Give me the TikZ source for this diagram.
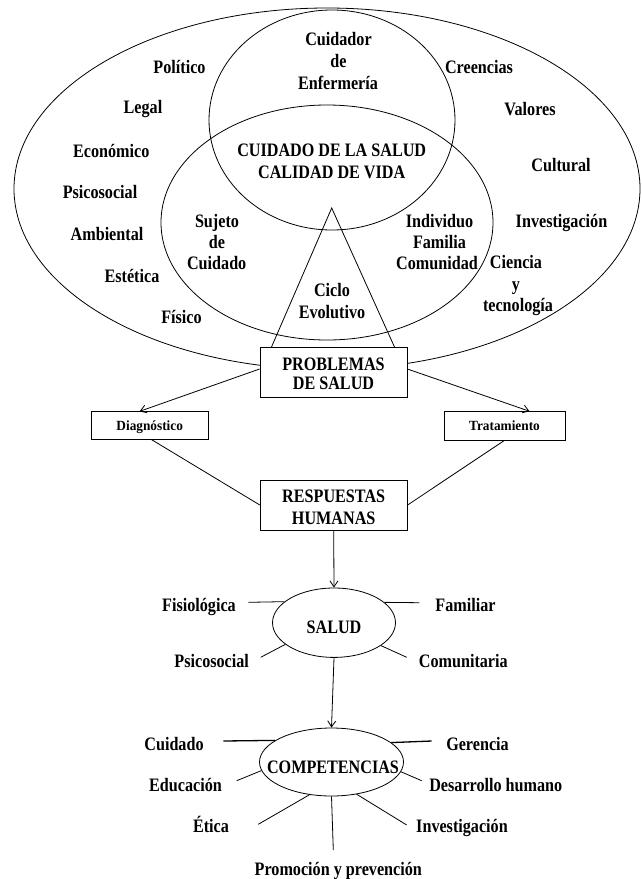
\documentclass[tikz,border=0pt]{standalone}
\usepackage{fontspec}
\setmainfont{Liberation Serif}[FakeStretch=0.85]
\newfontfamily\boxsmall{Liberation Serif}[FakeStretch=0.95]
\usetikzlibrary{shapes.geometric,arrows.meta}
\begin{document}
\begin{tikzpicture}[x=1pt,y=-1pt,line width=0.8pt,
  lbl/.style={anchor=base,inner sep=0pt,font=\bfseries\fontsize{19}{22}\selectfont},
  bigbox/.style={draw,fill=white,rectangle,minimum width=147pt,minimum height=50pt,inner sep=0pt,align=center,font=\bfseries\fontsize{19}{19}\selectfont},
  smallbox/.style={draw,fill=white,rectangle,inner sep=0pt,text height=9.2pt,text depth=0pt,font=\boxsmall\bfseries\fontsize{14}{16}\selectfont},
  arr/.style={-{Straight Barb[length=6pt,width=8pt]}},
  heavy/.style={line width=1.3pt}]
\useasboundingbox (0,0) rectangle (641,879);
% Venn-like region
\draw (327,188.7) ellipse [x radius=313pt,y radius=180.7pt];
\draw (332,120) ellipse [x radius=123pt,y radius=110pt];
\draw (327,222.5) ellipse [x radius=166pt,y radius=117.5pt];
\coordinate (apex) at (331.7,208);
\coordinate (bl) at (271.5,347);
\coordinate (br) at (394.5,347);
\draw (bl) -- (apex) -- (br);
% boxes
\node[bigbox] (prob) at (333.5,372) {\rule{0pt}{17pt}PROBLEMAS\\DE SALUD};
\node[bigbox] (resp) at (333.7,505) {\rule{0pt}{17pt}RESPUESTAS\\[2.7pt]HUMANAS};
\node[smallbox,minimum width=117pt,minimum height=27.6pt] (diag) at (149.7,425.5) {Diagnóstico};
\node[smallbox,minimum width=121pt,minimum height=28.3pt] (trat) at (504.5,425.8) {Tratamiento};
\draw[arr] ([yshift=3pt]prob.west) -- ([xshift=-10pt]diag.north);
\draw[arr] ([yshift=3pt]prob.east) -- ([xshift=25pt]trat.north);
\draw ([xshift=2pt]diag.south) -- (resp.west);
\draw (trat.south) -- (resp.east);
% SALUD
\node[draw,ellipse,minimum width=123pt,minimum height=69.4pt,inner sep=0pt,text height=21pt,text depth=0pt,font=\bfseries\fontsize{19}{22}\selectfont] (salud) at (334,622.7) {SALUD};
\draw[arr] (resp.south) -- (salud.north);
\coordinate (s1) at (248.3,602.3);
\coordinate (s2) at (419.3,602.7);
\coordinate (s3) at (260.7,657.3);
\coordinate (s4) at (406.7,657.3);
\draw (s1) -- (salud.157.8);
\draw (s2) -- (salud.22.1);
\draw (s3) -- (salud.204.7);
\draw (s4) -- (salud.334.7);
\node[lbl] (fisio) at (199,611) {Fisiológica};
\node[lbl] (fam) at (465.5,611) {Familiar};
\node[lbl] (psi2) at (211.7,667) {Psicosocial};
\node[lbl] (com) at (463.3,667) {Comunitaria};
% COMPETENCIAS
\node[draw,ellipse,minimum width=144pt,minimum height=68pt,inner sep=0pt] (comp) at (331.5,762) {};
\node[lbl] (comptext) at (333,773) {COMPETENCIAS};
\draw[arr] (salud.south) -- (comp.north);
\coordinate (c1) at (223.3,741);
\coordinate (c2) at (431.7,741);
\coordinate (c3) at (236.7,780.7);
\coordinate (c4) at (421.7,780.7);
\coordinate (c5) at (258.3,824.3);
\coordinate (c6) at (406.7,825);
\coordinate (c7) at (333.3,850);
\draw[heavy] (c1) -- (comp.159.9);
\draw[heavy] (c2) -- (comp.18.9);
\draw (c3) -- (comp.187.9);
\draw (c4) -- (comp.352.5);
\draw (c5) -- (comp.236.9);
\draw (c6) -- (comp.308.2);
\draw (c7) -- (comp.270);
\node[lbl] (cuid) at (174,750) {Cuidado};
\node[lbl] (ger) at (477.5,750) {Gerencia};
\node[lbl] (edu) at (185.5,791.5) {Educación};
\node[lbl] (des) at (495.8,791.5) {Desarrollo humano};
\node[lbl] (eti) at (211,832.5) {Ética};
\node[lbl] (inv2) at (462,832) {Investigación};
\node[lbl] (pro) at (338.3,875) {Promoción y prevención};
% upper labels
\node[lbl] (pol) at (179.5,73) {Político};
\node[lbl] (leg) at (143,113) {Legal};
\node[lbl] (eco) at (111.3,157) {Económico};
\node[lbl] (psi) at (100,198) {Psicosocial};
\node[lbl] (amb) at (107,240) {Ambiental};
\node[lbl] (est) at (132,282) {Estética};
\node[lbl] (fis) at (181.5,323) {Físico};
\node[lbl] (cui1) at (338.5,45) {Cuidador};
\node[lbl] (cui2) at (338.5,67) {de};
\node[lbl] (cui3) at (338,89) {Enfermería};
\node[lbl] (cre) at (479,73) {Creencias};
\node[lbl] (val) at (530,115) {Valores};
\node[lbl] (cul) at (561,171) {Cultural};
\node[lbl] (inv) at (561.5,227) {Investigación};
\node[lbl] (cie1) at (516,268) {Ciencia};
\node[lbl] (cie2) at (516,290) {y};
\node[lbl] (cie3) at (518,311.5) {tecnología};
\node[lbl] (suj1) at (217,227) {Sujeto};
\node[lbl] (suj2) at (217,248) {de};
\node[lbl] (suj3) at (216.7,269) {Cuidado};
\node[lbl] (ind1) at (439.5,227) {Individuo};
\node[lbl] (ind2) at (439.5,248) {Familia};
\node[lbl] (ind3) at (437,269) {Comunidad};
\node[lbl] (cic1) at (332,296.5) {Ciclo};
\node[lbl] (cic2) at (332,318) {Evolutivo};
\node[lbl] (cen1) at (331.7,156.7) {CUIDADO DE LA SALUD};
\node[lbl] (cen2) at (331.7,178.3) {CALIDAD DE VIDA};
\end{tikzpicture}
\end{document}
